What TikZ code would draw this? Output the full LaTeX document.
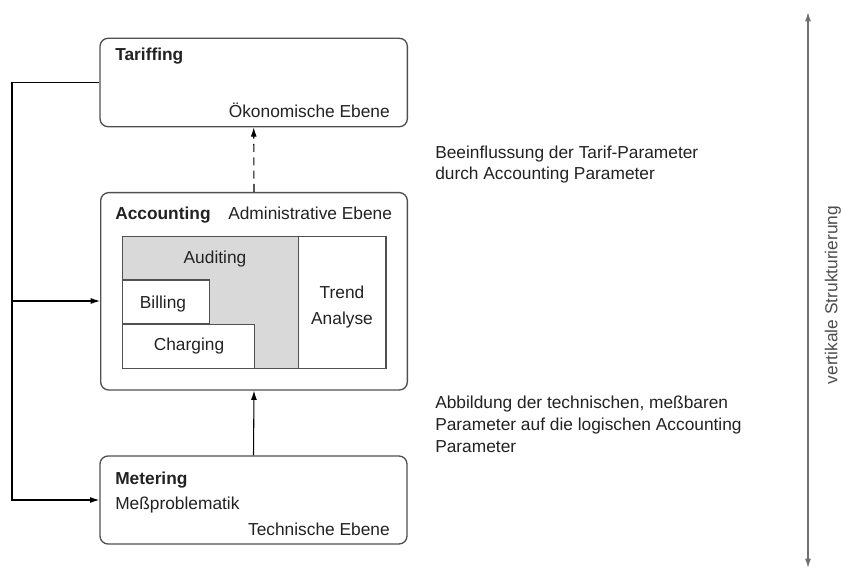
\documentclass[tikz,border=0pt]{standalone}
\usepackage{fontspec}
\setmainfont{Liberation Sans}
\usetikzlibrary{arrows.meta}
\definecolor{txt}{HTML}{222222}
\definecolor{edge}{HTML}{505050}
\definecolor{audfill}{HTML}{D9D9D9}
\definecolor{vgray}{HTML}{707070}
\tikzset{
  layerbox/.style={draw=edge, line width=1pt, rounded corners=6pt, rectangle, inner sep=0pt},
  innerbox/.style={draw=edge, line width=0.8pt, rectangle, inner sep=0pt},
  lbl/.style={text=txt, inner sep=0pt, font=\fontsize{13}{15.75}\selectfont},
  bl/.style={lbl, font=\fontsize{13}{15.75}\selectfont\bfseries},
  conn/.style={draw=black, line width=0.8pt},
  tip/.style={-{Latex[length=7pt,width=4.5pt]}},
}
\begin{document}
\begin{tikzpicture}[x=0.75pt,y=-0.75pt]
\useasboundingbox (0,0) rectangle (842,574);
\fill[white] (0,0) rectangle (842,574);

% layer boxes
\node[layerbox, minimum width=230.5pt, minimum height=66.3pt] (tar) at (253.7,82.5) {};
\node[layerbox, minimum width=230pt, minimum height=148pt] (acc) at (254,291.3) {};
\node[layerbox, minimum width=230.25pt, minimum height=66pt] (met) at (253.5,500) {};

% inner boxes
\node[innerbox, fill=audfill, minimum width=132pt, minimum height=98.7pt] (aud) at (210.3,302.5) {};
\node[innerbox, fill=white, minimum width=65.8pt, minimum height=98.7pt] (trend) at (342.15,302.5) {};
\node[innerbox, fill=white, minimum width=65.25pt, minimum height=33pt] (bill) at (165.8,302) {};
\node[innerbox, fill=white, minimum width=99pt, minimum height=33.2pt] (charg) at (188.3,346.2) {};

% labels
\node[bl, anchor=base west] (tarT) at (115,60.5) {Tariffing};
\node[lbl, anchor=base east] (tarE) at (390,118) {Ökonomische Ebene};
\node[bl, anchor=base west] (accT) at (115,219.5) {Accounting};
\node[lbl, anchor=base west] (accE) at (228,219.5) {Administrative Ebene};
\node[lbl, anchor=base] (audT) at (215,263.3) {Auditing};
\node[lbl, anchor=base] (trT1) at (342,298) {Trend};
\node[lbl, anchor=base] (trT2) at (342,324.5) {Analyse};
\node[lbl, anchor=base] (billT) at (163,308) {Billing};
\node[lbl, anchor=base] (chT) at (189,350.5) {Charging};
\node[bl, anchor=base west] (metT) at (115,484) {Metering};
\node[lbl, anchor=base west] (metP) at (115,509) {Meßproblematik};
\node[lbl, anchor=base east] (metE) at (390,535) {Technische Ebene};

\node[lbl, anchor=base west] (r1) at (435,158.3) {Beeinflussung der Tarif-Parameter};
\node[lbl, anchor=base west] (r2) at (435,179.3) {durch Accounting Parameter};
\node[lbl, anchor=base west] (r3) at (435,408.3) {Abbildung der technischen, meßbaren};
\node[lbl, anchor=base west] (r4) at (435,430) {Parameter auf die logischen Accounting};
\node[lbl, anchor=base west] (r5) at (435,452) {Parameter};

% connectors
\draw[conn, tip, dash pattern=on 6pt off 4pt] (acc.north) -- (tar.south);
\draw[conn, tip] (met.north) -- (acc.south);
\coordinate (fbl) at (12,301);
\draw[conn, tip] (tar.west) -| (fbl) |- (met.west);
\draw[conn, tip] (fbl) -- (fbl -| acc.west);

% vertical structuring arrow
\coordinate (vt) at (808,12);
\coordinate (vb) at (808,568);
\draw[draw=vgray, line width=1pt, {Latex[length=7pt,width=4.5pt]}-{Latex[length=7pt,width=4.5pt]}] (vt) -- (vb);
\node[lbl, rotate=90, text=txt!80] (vlab) at (833,295) {vertikale Strukturierung};
\end{tikzpicture}
\end{document}
